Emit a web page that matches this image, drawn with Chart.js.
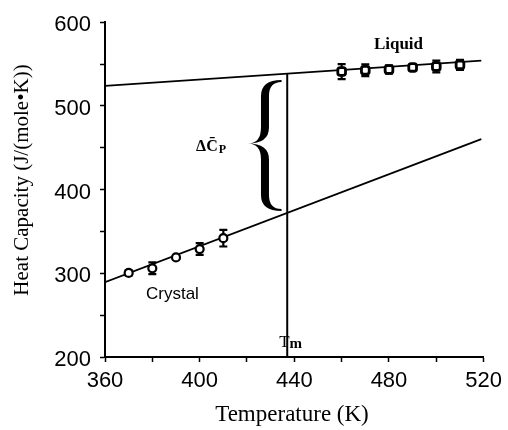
<!DOCTYPE html>
<html>
<head>
<meta charset="utf-8">
<script src="https://cdn.jsdelivr.net/npm/chart.js@4/dist/chart.umd.min.js"></script>
<style>
  html, body { margin: 0; padding: 0; background: #fff; }
  #wrap { width: 508px; height: 430px; }
</style>
</head>
<body>
<div id="wrap"><canvas id="cpChart" width="508" height="430"></canvas></div>
<script>
// measured points (K, J/(mole K)) with error bar half-widths
const crystalTemps = [370, 380, 390, 400, 410];
const crystalCp = [300.5, 306, 319, 329, 342];
const crystalErr = [3, 7, 2, 7, 10];

const liquidTemps = [460, 470, 480, 490, 500, 510];
const liquidCp = [541, 542.5, 543.5, 546, 547, 549];
const liquidErr = [9, 7, 5, 2, 7, 6];

// fitted lines (end points) and melting temperature
const fitTemps = [360, 519];
const crystalFit = [289.4, 460.3];
const liquidFit = [524, 554];
const tmTemp = 437;
const tmRange = [200, 538.5];

// axis ranges / ticks
const xRange = [360, 520];
const yRange = [200, 600];
const xLabelStep = 40;
const yLabelStep = 100;

const toPoints = (xs, ys) => xs.map((x, i) => ({ x: x, y: ys[i] }));

// error bars go under the markers
const errorBars = {
    id: 'errorBars',
    beforeDatasetsDraw(chart) {
        const ctx = chart.ctx;
        const yScale = chart.scales.y;
        chart.data.datasets.forEach((ds, i) => {
            if (!ds.errors) return;
            const meta = chart.getDatasetMeta(i);
            meta.data.forEach((pt, j) => {
                const v = ds.data[j].y;
                const e = ds.errors[j];
                const top = yScale.getPixelForValue(v + e);
                const bot = yScale.getPixelForValue(v - e);
                ctx.save();
                ctx.strokeStyle = '#000';
                ctx.lineWidth = 2.2;
                ctx.beginPath();
                ctx.moveTo(pt.x, top); ctx.lineTo(pt.x, bot);
                ctx.moveTo(pt.x - 4, top); ctx.lineTo(pt.x + 4, top);
                ctx.moveTo(pt.x - 4, bot); ctx.lineTo(pt.x + 4, bot);
                ctx.stroke();
                ctx.restore();
            });
        });
    }
};

function drawBrace(ctx, xs, xt, xh, y0, ym, y1, w) {
    const r = 16;
    const a = xs - w / 2, b = xs + w / 2;
    ctx.beginPath();
    ctx.moveTo(xh, y0);
    ctx.quadraticCurveTo(a, y0, a, y0 + r);
    ctx.lineTo(a, ym - r);
    ctx.quadraticCurveTo(a, ym, xt, ym);
    ctx.quadraticCurveTo(a, ym, a, ym + r);
    ctx.lineTo(a, y1 - r);
    ctx.quadraticCurveTo(a, y1, xh, y1);
    ctx.lineTo(xh, y1 - 2);
    ctx.quadraticCurveTo(b, y1 - 2, b, y1 - r);
    ctx.lineTo(b, ym + r);
    ctx.quadraticCurveTo(b, ym, xt, ym);
    ctx.quadraticCurveTo(b, ym, b, ym - r);
    ctx.lineTo(b, y0 + r);
    ctx.quadraticCurveTo(b, y0 + 2, xh, y0 + 2);
    ctx.closePath();
    ctx.fill();
}

// labels, brace and axis titles
const annotations = {
    id: 'annotations',
    afterDatasetsDraw(chart) {
        const ctx = chart.ctx;
        const xs = chart.scales.x, ys = chart.scales.y;
        const px = v => xs.getPixelForValue(v);
        const py = v => ys.getPixelForValue(v);
        ctx.save();
        ctx.fillStyle = '#000';

        // brace for delta Cp
        drawBrace(ctx, px(427.6), px(420.3), px(434.6), py(531), py(455), py(374.5), 8);

        ctx.font = 'bold 16px "Liberation Serif"';
        ctx.textAlign = 'left';
        ctx.textBaseline = 'middle';
        const dLabel = '\u0394C\u0304';
        ctx.fillText(dLabel, px(398.5), py(451.6));
        const dw = ctx.measureText(dLabel).width;
        ctx.font = 'bold 12px "Liberation Serif"';
        ctx.fillText('P', px(398.5) + dw + 1, py(451.6) + 3);

        ctx.font = 'bold 17px "Liberation Serif"';
        ctx.textAlign = 'center';
        ctx.fillText('Liquid', px(484), py(572.7));

        ctx.font = '17px "Liberation Sans Narrow", "Liberation Sans"';
        ctx.fillText('Crystal', px(388.5), py(274.8));

        ctx.textAlign = 'left';
        ctx.textBaseline = 'alphabetic';
        ctx.font = '17px "Liberation Serif"';
        ctx.fillText('T', px(433.6), py(211.9));
        const tw = ctx.measureText('T').width;
        ctx.font = 'bold 15px "Liberation Serif"';
        ctx.fillText('m', px(433.6) + tw, py(211.9) + 1);

        // axis titles
        ctx.textAlign = 'center';
        ctx.textBaseline = 'middle';
        ctx.font = '23px "Liberation Serif"';
        ctx.fillText('Temperature (K)', 292, 415);

        ctx.translate(22, 180);
        ctx.rotate(-Math.PI / 2);
        ctx.font = '21px "Liberation Serif"';
        ctx.fillText('Heat Capacity (J/(mole\u2022K))', 0, 0);
        ctx.restore();
    }
};

const tickFont = { family: '"Liberation Sans Narrow", "Liberation Sans"', size: 22 };

new Chart(document.getElementById('cpChart'), {
    type: 'scatter',
    data: {
        datasets: [
            {
                label: 'Crystal',
                data: toPoints(crystalTemps, crystalCp),
                errors: crystalErr,
                pointStyle: 'circle',
                pointRadius: 4,
                pointBorderWidth: 2.2,
                borderColor: '#000',
                backgroundColor: '#fff'
            },
            {
                label: 'Liquid',
                data: toPoints(liquidTemps, liquidCp),
                errors: liquidErr,
                pointStyle: 'rectRounded',
                pointRadius: 4.5,
                pointBorderWidth: 2.8,
                borderColor: '#000',
                backgroundColor: '#fff'
            },
            {
                label: 'Crystal fit',
                data: toPoints(fitTemps, crystalFit),
                showLine: true,
                pointRadius: 0,
                borderColor: '#000',
                borderWidth: 1.8
            },
            {
                label: 'Liquid fit',
                data: toPoints(fitTemps, liquidFit),
                showLine: true,
                pointRadius: 0,
                borderColor: '#000',
                borderWidth: 1.8
            },
            {
                label: 'Tm',
                data: toPoints([tmTemp, tmTemp], tmRange),
                showLine: true,
                pointRadius: 0,
                borderColor: '#000',
                borderWidth: 2
            }
        ]
    },
    options: {
        responsive: false,
        animation: false,
        events: [],
        layout: { padding: { top: 20, right: 21, left: 0, bottom: 0 } },
        plugins: {
            legend: { display: false },
            tooltip: { enabled: false }
        },
        scales: {
            x: {
                type: 'linear',
                min: xRange[0],
                max: xRange[1],
                afterFit: (scale) => { scale.height = 73; },
                border: { display: true, color: '#000', width: 2 },
                grid: { drawOnChartArea: false, drawTicks: true, tickLength: 5, tickColor: '#000', tickWidth: 1.5 },
                ticks: {
                    stepSize: xLabelStep / 2,
                    color: '#000',
                    font: tickFont,
                    padding: 6,
                    maxRotation: 0,
                    autoSkip: false,
                    callback: (v) => ((v - xRange[0]) % xLabelStep === 0 ? String(v) : '')
                }
            },
            y: {
                type: 'linear',
                min: yRange[0],
                max: yRange[1],
                afterFit: (scale) => { scale.width = 105; },
                border: { display: true, color: '#000', width: 2 },
                grid: { drawOnChartArea: false, drawTicks: true, tickLength: 5, tickColor: '#000', tickWidth: 1.5 },
                ticks: {
                    stepSize: yLabelStep / 2,
                    color: '#000',
                    font: tickFont,
                    padding: 9,
                    labelOffset: 3,
                    autoSkip: false,
                    callback: (v) => (v % yLabelStep === 0 ? String(v) : '')
                }
            }
        }
    },
    plugins: [errorBars, annotations]
});
</script>
</body>
</html>
